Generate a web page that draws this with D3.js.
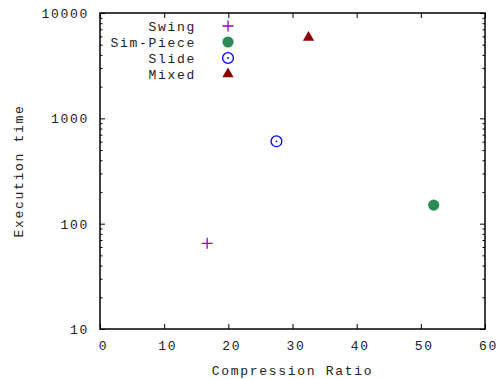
<!DOCTYPE html>
<html>
<head>
<meta charset="utf-8">
<script src="https://cdn.jsdelivr.net/npm/d3@7"></script>
<style>
  body { margin: 0; background: #fff; }
  svg text { font-family: "Liberation Mono", "DejaVu Sans Mono", monospace; font-size: 13px; letter-spacing: 1.7px; fill: #222; }
</style>
</head>
<body>
<svg id="chart"></svg>
<script>
// series, one point each
const seriesNames = ['Swing', 'Sim-Piece', 'Slide', 'Mixed'];
const seriesColors = ['#9400d3', '#2e8b57', '#0000ff', '#8b0000'];
const seriesSymbols = ['plus', 'dot', 'ring', 'triangle'];
const compressionRatio = [16.7, 52.0, 27.5, 32.5];
const executionTime = [65, 150, 605, 5850];

const xTicks = [0, 10, 20, 30, 40, 50, 60];
const yTicks = [10, 100, 1000, 10000];

const width = 503, height = 379;
const margin = { top: 13, right: 18, bottom: 50, left: 100 };

const svg = d3.select('#chart')
  .attr('width', width)
  .attr('height', height);

const x = d3.scaleLinear().domain([0, 60]).range([margin.left, width - margin.right]);
const y = d3.scaleLog().domain([10, 10000]).range([height - margin.bottom, margin.top]);

// minor log ticks 2..9 per decade
const yMinor = [];
yTicks.slice(0, -1).forEach(d => { for (let k = 2; k <= 9; k++) yMinor.push(d * k); });

const plusSym = {
  draw(ctx, size) {
    const r = Math.sqrt(size) / 2;
    ctx.moveTo(-r, 0); ctx.lineTo(r, 0);
    ctx.moveTo(0, -r); ctx.lineTo(0, r);
  }
};

function drawSymbol(g, kind, color, cx, cy) {
  if (kind === 'plus') {
    g.append('path').attr('d', d3.symbol(plusSym, 121)())
      .attr('transform', `translate(${cx},${cy})`)
      .attr('fill', 'none').attr('stroke', color).attr('stroke-width', 1.3);
  } else if (kind === 'dot') {
    g.append('circle').attr('cx', cx).attr('cy', cy).attr('r', 5.6).attr('fill', color);
  } else if (kind === 'ring') {
    g.append('circle').attr('cx', cx).attr('cy', cy).attr('r', 5.4)
      .attr('fill', 'none').attr('stroke', color).attr('stroke-width', 1.3);
    g.append('circle').attr('cx', cx).attr('cy', cy).attr('r', 0.9).attr('fill', color);
  } else if (kind === 'triangle') {
    g.append('path').attr('d', d3.symbol(d3.symbolTriangle, 55)())
      .attr('transform', `translate(${cx},${cy})`).attr('fill', color);
  }
}

const plotBottom = height - margin.bottom;
const plotRight = width - margin.right;

// axes, ticks drawn inward like gnuplot
const gx = svg.append('g')
  .attr('transform', `translate(0,${plotBottom})`)
  .call(d3.axisBottom(x).tickValues(xTicks).tickSize(-5).tickPadding(12).tickFormat(d3.format('d')));

svg.append('g')
  .attr('transform', `translate(0,${margin.top})`)
  .call(d3.axisTop(x).tickValues(xTicks).tickSize(-5).tickFormat(''));

const gy = svg.append('g')
  .attr('transform', `translate(${margin.left},0)`)
  .call(d3.axisLeft(y).tickValues(yTicks).tickSize(-5).tickPadding(11).tickFormat(d3.format('d')));

svg.append('g')
  .attr('transform', `translate(${margin.left},0)`)
  .call(d3.axisLeft(y).tickValues(yMinor).tickSize(-2.5).tickFormat(''));

svg.append('g')
  .attr('transform', `translate(${plotRight},0)`)
  .call(d3.axisRight(y).tickValues(yTicks).tickSize(-5).tickFormat(''));

svg.append('g')
  .attr('transform', `translate(${plotRight},0)`)
  .call(d3.axisRight(y).tickValues(yMinor).tickSize(-2.5).tickFormat(''));

svg.selectAll('.domain').remove();
svg.selectAll('.tick line').attr('stroke', '#000').attr('stroke-width', 1);
svg.selectAll('.tick text').attr('font-family', null).attr('font-size', null).attr('fill', '#222');
gx.selectAll('.tick text').attr('dx', 3);
gy.selectAll('.tick text').attr('dy', '0.35em');

// border
svg.append('rect')
  .attr('x', margin.left).attr('y', margin.top)
  .attr('width', plotRight - margin.left).attr('height', plotBottom - margin.top)
  .attr('fill', 'none').attr('stroke', '#000').attr('stroke-width', 1.5);

// axis titles
svg.append('text')
  .attr('x', (margin.left + plotRight) / 2).attr('y', 375)
  .attr('text-anchor', 'middle')
  .text('Compression Ratio');

svg.append('text')
  .attr('transform', `translate(23,${(margin.top + plotBottom) / 2}) rotate(-90)`)
  .attr('text-anchor', 'middle')
  .text('Execution time');

// points
const pts = svg.append('g');
seriesNames.forEach((name, i) => {
  drawSymbol(pts, seriesSymbols[i], seriesColors[i], x(compressionRatio[i]), y(executionTime[i]));
});

// legend
const legend = svg.append('g');
seriesNames.forEach((name, i) => {
  const ly = 26 + i * 16;
  legend.append('text')
    .attr('x', 196).attr('y', ly).attr('dy', '0.35em')
    .attr('text-anchor', 'end')
    .text(name);
  drawSymbol(legend, seriesSymbols[i], seriesColors[i], 228, ly);
});
</script>
</body>
</html>
